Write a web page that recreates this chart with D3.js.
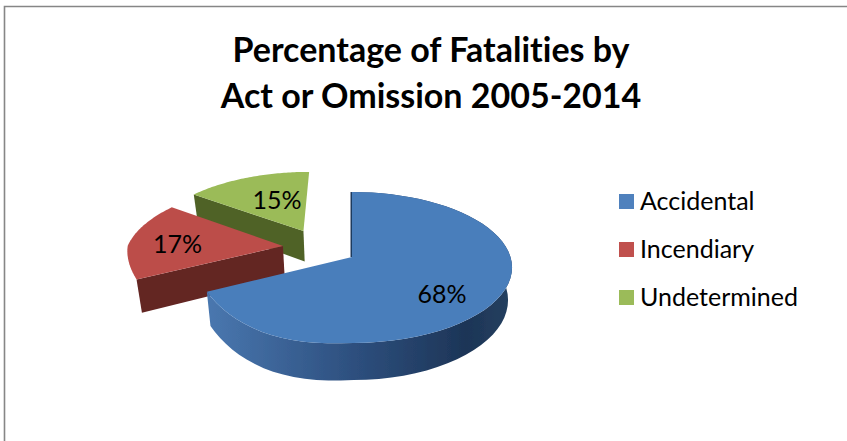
<!DOCTYPE html>
<html>
<head>
<meta charset="utf-8">
<script src="https://cdn.jsdelivr.net/npm/d3@7/dist/d3.min.js"></script>
<style>
html, body { margin: 0; padding: 0; background: #fff; }
svg { display: block; }
text { font-family: Lato, "Noto Sans", sans-serif; fill: #000; font-variant-ligatures: none; }
</style>
</head>
<body>
<div id="chart"></div>
<script>
// data
const titleLines = ["Percentage of Fatalities by", "Act or Omission 2005-2014"];
const categories = ["Accidental", "Incendiary", "Undetermined"];
const shares = [68, 17, 15];

// colours
const topColors = ["#4a7ebb", "#bc4d4a", "#9bbb59"];
const sideColors = ["#2c4d75", "#632523", "#4f6228"];

const width = 847;
const height = 441;

// how the flat disc is tilted on screen
const cx = 352, cy = 257;
const radius = 158.5;
const yScale = 74;
const persp = 0.139;
const depth = 32;
const shrink = 0.975;

// explode offset of each slice, in disc units
const offsets = [[0, 0], [-0.445, 0.152], [-0.322, 0.369]];

const svg = d3.select("#chart").append("svg")
    .attr("width", width)
    .attr("height", height);

const defs = svg.append("defs");
defs.append("filter").attr("id", "soft")
    .append("feGaussianBlur").attr("stdDeviation", 0.5);

const grad = defs.append("linearGradient").attr("id", "blueSide")
    .attr("gradientUnits", "userSpaceOnUse")
    .attr("x1", 205).attr("x2", 512).attr("y1", 0).attr("y2", 0);
grad.append("stop").attr("offset", "0%").attr("stop-color", "#4a78b0");
grad.append("stop").attr("offset", "45%").attr("stop-color", "#2f5282");
grad.append("stop").attr("offset", "85%").attr("stop-color", "#1d3557");
grad.append("stop").attr("offset", "100%").attr("stop-color", "#24405f");

// frame, only top and left
svg.append("path")
    .attr("d", `M4.5,${height}V6.5H${width}`)
    .attr("fill", "none")
    .attr("stroke", "#868686")
    .attr("stroke-width", 1.6);

// title
svg.append("g").selectAll("text")
    .data(titleLines)
    .enter()
    .append("text")
    .attr("x", 431)
    .attr("y", (d, i) => 62 + i * 46)
    .attr("text-anchor", "middle")
    .style("font-size", "34px")
    .style("font-weight", "bold")
    .text(d => d);

// disc point -> screen point
function project(u, v, low) {
    const w = 1 + persp * v;
    const x = cx + radius * u / w;
    const y = cy - yScale * v / w;
    if (!low) return [x, y];
    return [cx + (x - cx) * shrink, y + depth / w];
}

function rimPoint(angle, off, low) {
    // the front left of the source disc is a bit squarer than a true circle
    let su = 1, sv = 1;
    if (angle > Math.PI && angle < 1.5 * Math.PI) {
        const s = Math.sin(2 * (angle - Math.PI));
        su = 1 - 0.065 * s;
        sv = 1 + 0.05 * s;
    }
    return project(off[0] + su * Math.sin(angle), off[1] + sv * Math.cos(angle), low);
}

function rim(d, off, low) {
    const n = 60;
    return d3.range(n + 1).map(i => {
        const a = d.startAngle + (d.endAngle - d.startAngle) * i / n;
        return rimPoint(a, off, low);
    });
}

const pie = d3.pie().sort(null).startAngle(0).endAngle(2 * Math.PI);
const slices = pie(shares);
const line = d3.line();

const pieGroup = svg.append("g").attr("filter", "url(#soft)");

// back slices first, so the blue one sits on top
[2, 1, 0].forEach(i => {
    const d = slices[i];
    const off = offsets[i];
    const g = pieGroup.append("g");
    const apex = project(off[0], off[1], false);
    const apexLow = project(off[0], off[1], true);
    const top = rim(d, off, false);

    if (i === 0) {
        // only the blue slice shows its outer wall
        const low = rim(d, off, true);
        g.append("path")
            .attr("d", line(top.concat(low.slice().reverse())) + "Z")
            .attr("fill", "url(#blueSide)");

        // thin dark edge on the cut that faces left
        g.append("path")
            .attr("d", line([apex, top[0]]))
            .attr("stroke", "#1f3a5f")
            .attr("stroke-width", 3)
            .attr("fill", "none");
    } else {
        // cut face towards the viewer
        g.append("path")
            .attr("d", line([apex, top[0], rimPoint(d.startAngle, off, true), apexLow]) + "Z")
            .attr("fill", sideColors[i]);
    }

    // top face
    g.append("path")
        .attr("d", line([apex].concat(top)) + "Z")
        .attr("fill", topColors[i]);
});

// labels on the slices
const labelAnchors = [[0.532, -0.455], [-1.13, 0.194], [-0.531, 0.88]];
svg.append("g").selectAll("text")
    .data(shares)
    .enter()
    .append("text")
    .attr("x", (d, i) => project(labelAnchors[i][0], labelAnchors[i][1], false)[0])
    .attr("y", (d, i) => project(labelAnchors[i][0], labelAnchors[i][1], false)[1])
    .attr("text-anchor", "middle")
    .attr("dominant-baseline", "central")
    .style("font-size", "25px")
    .text(d => d + "%");

// legend
const legendY = d3.scalePoint().domain(categories).range([201.5, 297.5]);
const legendColor = d3.scaleOrdinal().domain(categories).range(["#4f81bd", "#c0504d", "#9bbb59"]);

const legend = svg.append("g").selectAll("g")
    .data(categories)
    .enter()
    .append("g")
    .attr("transform", d => `translate(619,${legendY(d)})`);

legend.append("rect")
    .attr("x", 0).attr("y", -7.5)
    .attr("width", 15).attr("height", 15)
    .attr("fill", d => legendColor(d));

legend.append("text")
    .attr("x", 21)
    .attr("y", -2)
    .attr("dominant-baseline", "central")
    .style("font-size", "25px")
    .text(d => d);
</script>
</body>
</html>
